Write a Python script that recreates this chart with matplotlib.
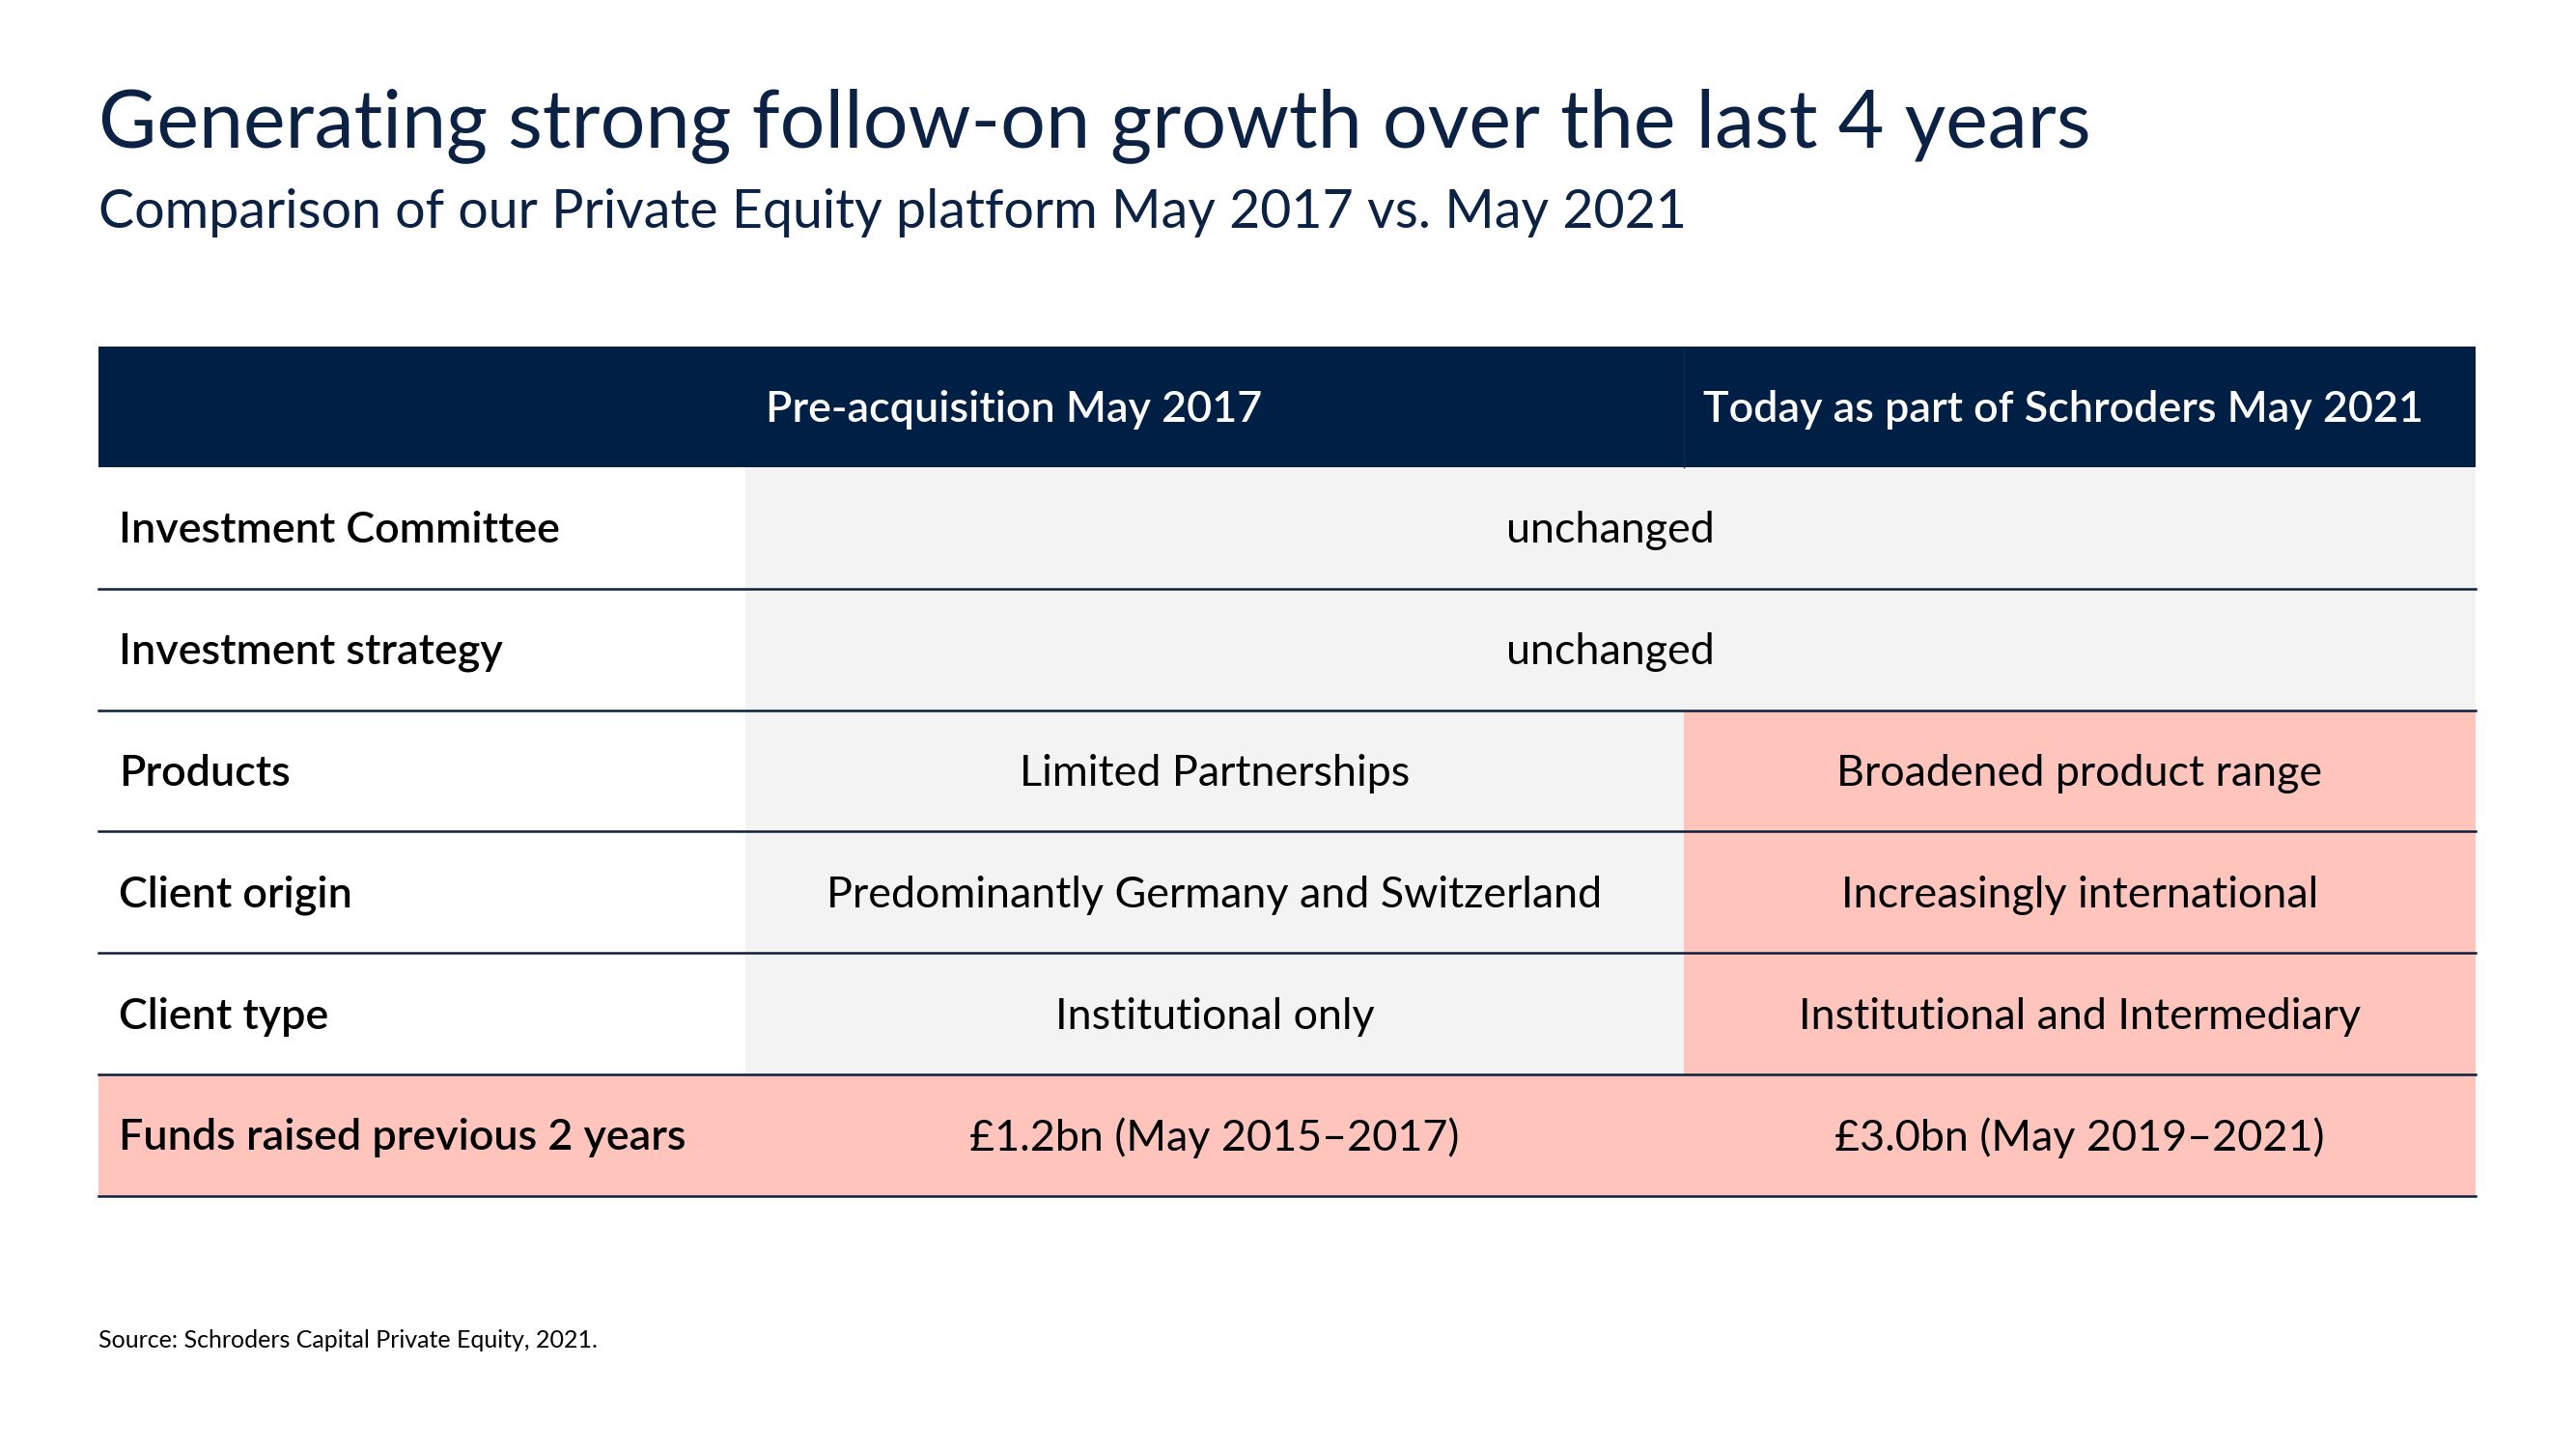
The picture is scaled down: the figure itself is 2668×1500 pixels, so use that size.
import matplotlib.pyplot as plt
from matplotlib.patches import Rectangle

# table content
title = "Generating strong follow-on growth over the last 4 years"
subtitle = "Comparison of our Private Equity platform May 2017 vs. May 2021"
headers = ["", "Pre-acquisition May 2017", "Today as part of Schroders May 2021"]
row_labels = ["Investment Committee", "Investment strategy", "Products",
              "Client origin", "Client type", "Funds raised previous 2 years"]
may_2017 = ["unchanged", "unchanged", "Limited Partnerships",
            "Predominantly Germany and Switzerland", "Institutional only",
            "\u00a31.2bn (May 2015\u20132017)"]
may_2021 = ["unchanged", "unchanged", "Broadened product range",
            "Increasingly international", "Institutional and Intermediary",
            "\u00a33.0bn (May 2019\u20132021)"]
source = "Source: Schroders Capital Private Equity, 2021."

# styling
NAVY = "#001F45"
TITLE_C = "#0B2244"
GREY = "#F3F3F3"
PINK = "#FFC5BD"
LINE = "#0B1F3D"
plt.rcParams['font.family'] = ['Lato', 'DejaVu Sans']

W, H = 2668, 1500
fig = plt.figure(figsize=(W / 100, H / 100), dpi=100)
ax = fig.add_axes([0, 0, 1, 1])
ax.set_xlim(0, W)
ax.set_ylim(H, 0)
ax.axis('off')

col_x = [102, 772, 1744, 2564]
head_top, head_bot = 359, 484
row_h = 125.8
body_fs = 32.3

ax.text(102, 130, title, fontsize=59.5, color=TITLE_C, va='center', ha='left')
ax.text(102, 221, subtitle, fontsize=40, color=TITLE_C, va='center', ha='left')

# header bar
ax.add_patch(Rectangle((col_x[0], head_top), col_x[3] - col_x[0], head_bot - head_top,
                       color=NAVY, lw=0))
ax.plot([col_x[2], col_x[2]], [head_top, head_bot], color="#0A2A52", lw=1)
hy = (head_top + head_bot) / 2 + 3
ax.text(col_x[1] + 21, hy, headers[1], color='white', fontsize=32.3,
        fontweight='semibold', va='center', ha='left')
ax.text(col_x[2] + 20, hy, headers[2], color='white', fontsize=32.3,
        fontweight='semibold', va='center', ha='left')

n = len(row_labels)
for i in range(n):
    y0 = head_bot + i * row_h
    yc = y0 + row_h / 2 + 3
    last = i == n - 1
    if last:
        ax.add_patch(Rectangle((col_x[0], y0), col_x[3] - col_x[0], row_h, color=PINK, lw=0))
    else:
        ax.add_patch(Rectangle((col_x[1], y0), col_x[2] - col_x[1], row_h, color=GREY, lw=0))
        c3 = GREY if may_2017[i] == may_2021[i] else PINK
        ax.add_patch(Rectangle((col_x[2], y0), col_x[3] - col_x[2], row_h, color=c3, lw=0))
    ax.text(col_x[0] + 21, yc, row_labels[i], fontsize=body_fs, fontweight='semibold',
            color='black', va='center', ha='left')
    if may_2017[i] == may_2021[i]:
        ax.text((col_x[1] + col_x[3]) / 2, yc, may_2017[i], fontsize=body_fs,
                color='black', va='center', ha='center')
    else:
        ax.text((col_x[1] + col_x[2]) / 2, yc, may_2017[i], fontsize=body_fs,
                color='black', va='center', ha='center')
        ax.text((col_x[2] + col_x[3]) / 2, yc, may_2021[i], fontsize=body_fs,
                color='black', va='center', ha='center')
    ax.plot([col_x[0], col_x[3]], [y0 + row_h, y0 + row_h], color=LINE, lw=1.8)

ax.text(102, 1389, source, fontsize=18, color='black', va='center', ha='left')

fig.savefig("out.png", dpi=100, facecolor='white')
